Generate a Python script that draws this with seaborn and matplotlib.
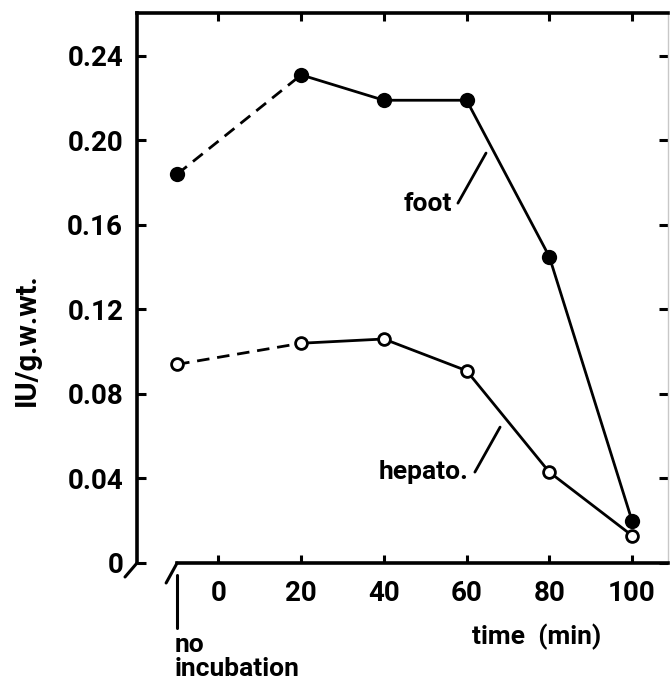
import matplotlib
matplotlib.use("Agg")
import matplotlib.pyplot as plt
import seaborn as sns

# time after start of incubation (min); -10 is the "no incubation" sample
time_min = [-10, 20, 40, 60, 80, 100]
foot = [0.184, 0.231, 0.219, 0.219, 0.145, 0.020]
hepato = [0.094, 0.104, 0.106, 0.091, 0.043, 0.013]

x_ticks = [0, 20, 40, 60, 80, 100]
y_ticks = [0, 0.04, 0.08, 0.12, 0.16, 0.20, 0.24]
y_tick_labels = ["0", "0.04", "0.08", "0.12", "0.16", "0.20", "0.24"]
no_inc_x = -10

sns.set_style("ticks")
plt.rcParams["font.family"] = ["Roboto", "DejaVu Sans"]
plt.rcParams["font.weight"] = "bold"
plt.rcParams["axes.labelweight"] = "bold"
for key in ["text.color", "axes.labelcolor", "xtick.color", "ytick.color"]:
    plt.rcParams[key] = "black"

FS_TICK = 20
FS = 19
LW = 2.0
DASH = (0, (4.5, 2.8))

fig = plt.figure(figsize=(6.7, 6.8), dpi=100)
ax = fig.add_axes([0.2045, 0.1721, 0.7925, 0.8088])

for vals in (foot, hepato):
    sns.lineplot(x=time_min[:2], y=vals[:2], ax=ax, color="black", lw=LW,
                 linestyle=DASH, zorder=2)
    sns.lineplot(x=time_min[1:], y=vals[1:], ax=ax, color="black", lw=LW, zorder=2)

sns.scatterplot(x=time_min, y=foot, ax=ax, s=11 ** 2, color="black",
                edgecolor="black", linewidth=0, zorder=3)
sns.scatterplot(x=time_min, y=hepato, ax=ax, s=8.5 ** 2, color="white",
                edgecolor="black", linewidth=2, zorder=3)

xmin, xmax = -19.7, 108.7
ax.set_xlim(xmin, xmax)
ax.set_ylim(0, 0.2603)

ax.set_xticks(x_ticks)
ax.set_xticklabels([str(t) for t in x_ticks])
ax.set_yticks(y_ticks)
ax.set_yticklabels(y_tick_labels)
ax.tick_params(axis="both", direction="in", width=2.2, labelsize=FS_TICK)
ax.tick_params(axis="x", length=5.8, pad=12, top=True)
ax.tick_params(axis="y", length=6.5, pad=10, right=True)

for side in ["left", "top", "bottom"]:
    ax.spines[side].set_linewidth(2.6)
    ax.spines[side].set_color("black")
ax.spines["right"].set_linewidth(1)
ax.spines["right"].set_color("#c8c8c8")
ax.spines["bottom"].set_bounds(no_inc_x, xmax)

# axis breaks and the "no incubation" marker
dy = 0.04 / 84.5  # data units per pixel (y)
dx = 20 / 82.7    # data units per pixel (x)
ax.plot([xmin, xmin - 12 * dx], [0, -14 * dy], color="black", lw=2.2, clip_on=False)
ax.plot([no_inc_x, no_inc_x - 11 * dx], [0, -20 * dy], color="black", lw=2.2, clip_on=False)
ax.plot([no_inc_x, no_inc_x], [-12 * dy, -65 * dy], color="black", lw=2.2, clip_on=False)
ax.text(no_inc_x - 0.5, -70 * dy, "no\nincubation", fontsize=FS, ha="left", va="top",
        linespacing=1.0)

ax.set_xlabel("time  (min)", fontsize=FS)
ax.xaxis.set_label_coords(0.752, -0.1345)
ax.xaxis.label.set_va("center")
ax.set_ylabel("IU/g.w.wt.", fontsize=21)
ax.yaxis.set_label_coords(-0.207, 0.407)
ax.yaxis.label.set_va("center")

# curve labels with leader lines
ax.text(56.5, 0.170, "foot", fontsize=FS, ha="right", va="center")
ax.plot([57.9, 64.7], [0.1703, 0.194], color="black", lw=2)
ax.text(60.4, 0.043, "hepato.", fontsize=FS, ha="right", va="center")
ax.plot([62.0, 68.1], [0.043, 0.0643], color="black", lw=2)

fig.savefig("out.png", dpi=100)
plt.close(fig)
